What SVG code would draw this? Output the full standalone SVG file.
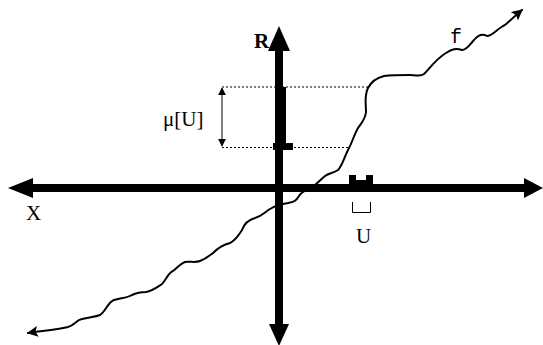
<svg xmlns="http://www.w3.org/2000/svg" width="543" height="345" viewBox="0 0 543 345">
<style>
.axis{stroke:#000;stroke-width:8;fill:none}
.head{fill:#000}
.curve{stroke:#000;stroke-width:2;fill:none;stroke-linejoin:round;stroke-linecap:round}
.dot{stroke:#000;stroke-width:1;stroke-dasharray:2,2;fill:none}
.thin{stroke:#000;stroke-width:1;fill:none}
.serif{font-family:"Liberation Serif","Times New Roman",serif;font-size:21px;fill:#000}
.mono{font-family:"Liberation Mono","Courier New",monospace;font-size:20px;fill:#000}
</style>
<defs>
<marker id="sa" viewBox="0 0 10 10" refX="9" refY="5" markerWidth="8" markerHeight="8" markerUnits="userSpaceOnUse" orient="auto-start-reverse">
<path d="M0,0 L10,5 L0,10 z" fill="#000"/>
</marker>
<marker id="ca" viewBox="0 0 10 10" refX="9" refY="5" markerWidth="11" markerHeight="11" markerUnits="userSpaceOnUse" orient="auto-start-reverse">
<path d="M0,0 L10,5 L0,10 L2,5 z" fill="#000"/>
</marker>
</defs>
<g id="axes">
<line class="axis" x1="30" y1="188" x2="526" y2="188"/>
<polygon class="head" points="8,188 33,178 33,198"/>
<polygon class="head" points="543,188 524,178 524,198"/>
<line class="axis" x1="279" y1="48" x2="279" y2="327"/>
<polygon class="head" points="279,26 268,51 290,51"/>
<polygon class="head" points="279,346 269,324 289,324"/>
</g>
<g id="measure">
<rect x="275" y="87" width="11" height="58" fill="#000"/>
<rect x="273" y="143" width="20" height="7" fill="#000"/>
<line class="dot" x1="222" y1="87" x2="368" y2="87"/>
<line class="dot" x1="222" y1="147.5" x2="350" y2="147.5"/>
<line class="thin" x1="222" y1="88" x2="222" y2="146" marker-start="url(#sa)" marker-end="url(#sa)"/>
<text class="serif" x="163" y="126">μ[U]</text>
</g>
<g id="setU">
<path d="M349,184 V175 H356 V180 H366 V175 H373 V184 z" fill="#000"/>
<path class="thin" d="M352.5,202 V212.5 H370.5 V202" stroke-width="1.3"/>
<text class="serif" x="356" y="243">U</text>
</g>
<g id="connectors">
<path class="curve" marker-start="url(#ca)" marker-end="url(#ca)" d="M28,333 C40,331 55,330 68,327 C75,325 76,320 82,319 C90,317 95,317 100,315 C106,311 108,302 114,300 C120,298 127,298 132,295 C136,293 140,292 146,292 C152,291 156,288 162,284 C166,280 168,273 173,271 C177,268 180,264 185,262 C190,261 195,263 200,261 C205,259 208,257 213,253 C217,249 222,245 230,243 C236,240 238,236 242,230 C244,224 248,220 255,218 C262,216 265,212 270,209 C275,206 281,204 288,203 C294,202 296,201 299,196 C301,192 306,190 312,187 C317,184 320,180 325,176 C329,173 334,173 338,170 C342,166 344,158 348,150 C352,143 354,135 358,128 C362,122 365,120 366,112 C366,104 364,96 368,88 C371,82 376,78 384,76 C392,75 400,75 410,75 C418,75 420,77 424,74 C430,68 436,59 446,53 C452,49 456,48 462,50 C467,50 470,44 474,40 C478,35 482,33 487,36 C492,36 496,30 503,26 C507,24 510,20 522,10"/>
</g>
<g id="labels">
<text class="serif" x="254" y="48" font-size="20" font-weight="bold">R</text>
<text class="serif" x="26" y="220">X</text>
<text class="mono" x="450" y="43">f</text>
</g>
</svg>
